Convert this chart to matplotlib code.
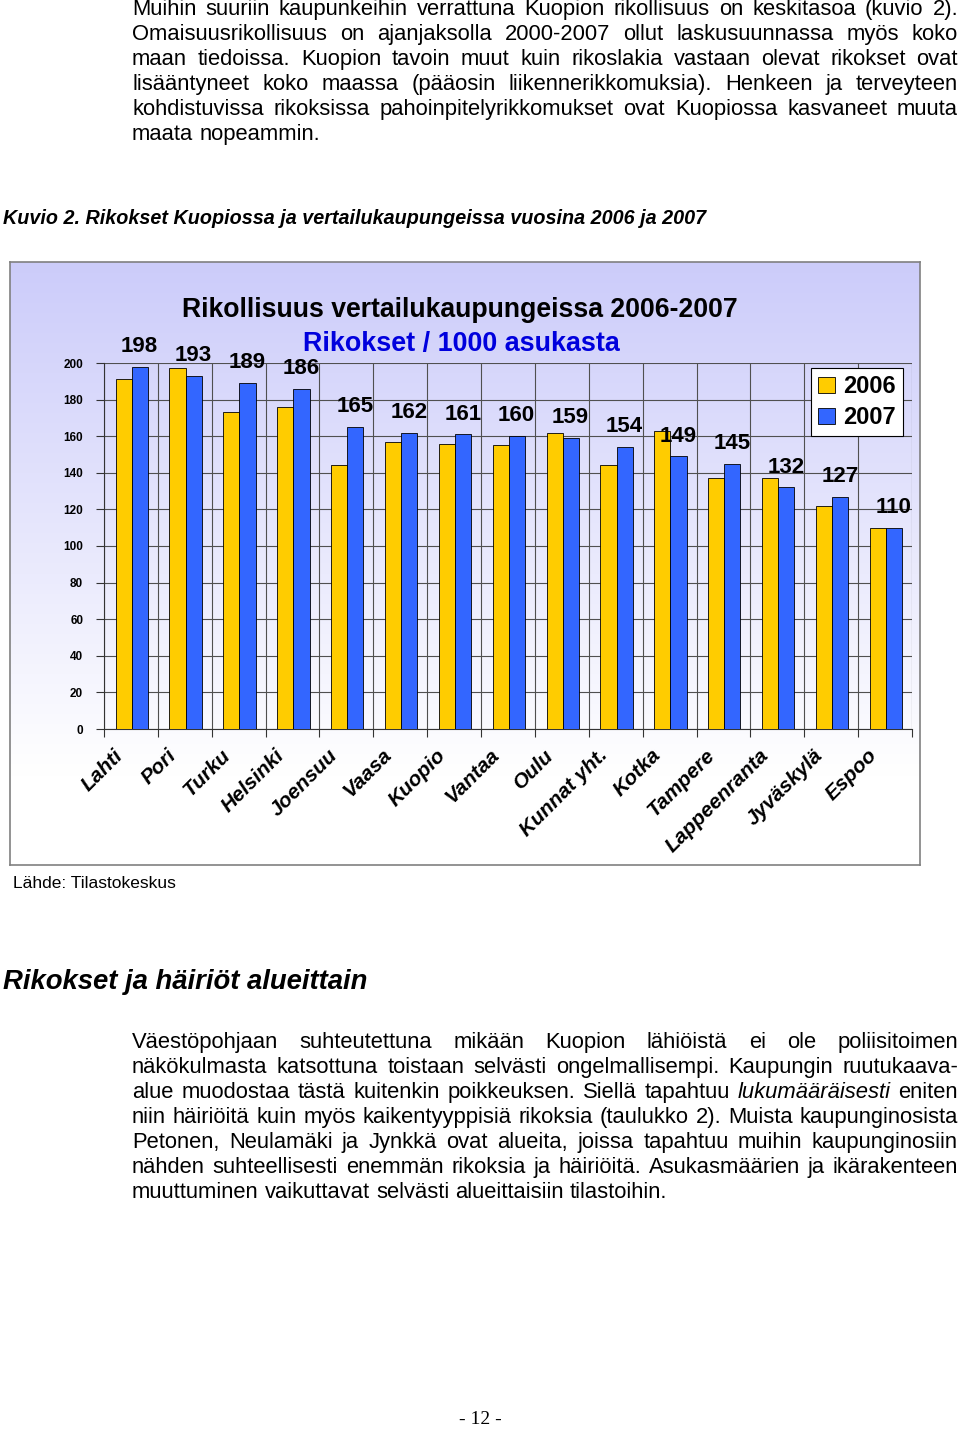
import numpy as np
import matplotlib
matplotlib.use('Agg')
import matplotlib.pyplot as plt
from matplotlib.patches import Patch

# Chart data (crimes per 1000 inhabitants)
cities = ['Lahti', 'Pori', 'Turku', 'Helsinki', 'Joensuu', 'Vaasa', 'Kuopio', 'Vantaa',
          'Oulu', 'Kunnat yht.', 'Kotka', 'Tampere', 'Lappeenranta', 'Jyväskylä', 'Espoo']
values_2006 = [191, 197, 173, 176, 144, 157, 156, 155, 162, 144, 163, 137, 137, 122, 110]
values_2007 = [198, 193, 189, 186, 165, 162, 161, 160, 159, 154, 149, 145, 132, 127, 110]
yticks = [0, 20, 40, 60, 80, 100, 120, 140, 160, 180, 200]

# Page text
para1 = [
    "Muihin suuriin kaupunkeihin verrattuna Kuopion rikollisuus on keskitasoa (kuvio 2).",
    "Omaisuusrikollisuus on ajanjaksolla 2000-2007 ollut laskusuunnassa myös koko",
    "maan tiedoissa. Kuopion tavoin muut kuin rikoslakia vastaan olevat rikokset ovat",
    "lisääntyneet koko maassa (pääosin liikennerikkomuksia). Henkeen ja terveyteen",
    "kohdistuvissa rikoksissa pahoinpitelyrikkomukset ovat Kuopiossa kasvaneet muuta",
    "maata nopeammin.",
]
para2 = [
    "Väestöpohjaan suhteutettuna mikään Kuopion lähiöistä ei ole poliisitoimen",
    "näkökulmasta katsottuna toistaan selvästi ongelmallisempi. Kaupungin ruutukaava-",
    "alue muodostaa tästä kuitenkin poikkeuksen. Siellä tapahtuu *lukumääräisesti* eniten",
    "niin häiriöitä kuin myös kaikentyyppisiä rikoksia (taulukko 2). Muista kaupunginosista",
    "Petonen, Neulamäki ja Jynkkä ovat alueita, joissa tapahtuu muihin kaupunginosiin",
    "nähden suhteellisesti enemmän rikoksia ja häiriöitä. Asukasmäärien ja ikärakenteen",
    "muuttuminen vaikuttavat selvästi alueittaisiin tilastoihin.",
]

colors = {
    'yellow': '#FFCC00',
    'blue': '#3366FF',
    'title_blue': '#0000DD',
    'grid': '#505050',
}

W, H = 960, 1429
fig = plt.figure(figsize=(W / 100, H / 100), dpi=100)
fig.patch.set_facecolor('white')
renderer = fig.canvas.get_renderer()


def fx(x):
    return x / W


def fy(y):
    return 1 - y / H


def text_line(line, x0, x1, y, size, justify):
    # y is the baseline in pixels from the top
    words = line.split(' ')
    items = []
    for w in words:
        style = 'normal'
        if w.startswith('*') and w.endswith('*'):
            w = w.strip('*')
            style = 'italic'
        t = fig.text(fx(x0), fy(y), w, fontsize=size, style=style,
                     family='Liberation Sans', va='baseline', ha='left')
        items.append(t)
    widths = [t.get_window_extent(renderer).width for t in items]
    sp = fig.text(0, 0, 'a a', fontsize=size, family='Liberation Sans')
    sp2 = fig.text(0, 0, 'aa', fontsize=size, family='Liberation Sans')
    space = sp.get_window_extent(renderer).width - sp2.get_window_extent(renderer).width
    sp.remove()
    sp2.remove()
    if justify and len(items) > 1:
        gap = max((x1 - x0 - sum(widths)) / (len(items) - 1), space * 0.6)
    else:
        gap = space
    x = x0
    for t, w in zip(items, widths):
        t.set_x(fx(x))
        x += w + gap


def paragraph(lines, x0, x1, y0, step, size):
    for i, line in enumerate(lines):
        text_line(line, x0, x1, y0 + i * step, size, i < len(lines) - 1)


paragraph(para1, 132, 958, 15, 25, 15.8)
paragraph(para2, 132, 958, 1048, 25, 15.8)

fig.text(fx(3), fy(218), 'Kuvio 2. Rikokset Kuopiossa ja vertailukaupungeissa vuosina 2006 ja 2007',
         family='Liberation Sans', fontsize=14.2, weight='bold',
         style='italic', va='center', ha='left')
fig.text(fx(13), fy(883), 'Lähde: Tilastokeskus', family='Liberation Sans',
         fontsize=12.5, va='center', ha='left')
fig.text(fx(3), fy(982), 'Rikokset ja häiriöt alueittain', family='Liberation Sans', fontsize=19.8,
         weight='bold', style='italic', va='center', ha='left')
fig.text(fx(480), fy(1419), '- 12 -', family='Liberation Serif', fontsize=14, va='center', ha='center')

# Chart frame with gradient background
box_l, box_t, box_r, box_b = 10, 262, 920, 865
bg = fig.add_axes([fx(box_l), fy(box_b), fx(box_r - box_l), (box_b - box_t) / H])
top = np.array([0.80, 0.80, 0.98])
grad = np.linspace(0, 1, 300)
grad = np.clip(grad / 0.85, 0, 1)[:, None]
img = top[None, :] * (1 - grad) + np.ones(3)[None, :] * grad
bg.imshow(img[:, None, :], aspect='auto', extent=[0, 1, 0, 1])
bg.set_xticks([])
bg.set_yticks([])
for s in bg.spines.values():
    s.set_color('#808080')
    s.set_linewidth(1.2)

# Plot area
pl, pt, pr, pb = 104, 363, 912, 729
ax = fig.add_axes([fx(pl), fy(pb), fx(pr - pl), (pb - pt) / H])
ax.patch.set_alpha(0)
n = len(cities)
x = np.arange(n)
ax.bar(x + 0.365, values_2006, width=0.3, color=colors['yellow'], edgecolor='black',
       linewidth=0.6, zorder=3, label='2006')
ax.bar(x + 0.665, values_2007, width=0.3, color=colors['blue'], edgecolor='black',
       linewidth=0.6, zorder=3, label='2007')
ax.set_xlim(0, n)
ax.set_ylim(0, 200)
ax.set_yticks(yticks)
ax.set_yticklabels([str(v) for v in yticks], fontsize=8.5, weight='bold', family='Liberation Sans')
ax.set_xticks(np.arange(n + 1))
ax.set_xticklabels([])
ax.tick_params(axis='both', direction='out', length=6, width=0.8, color='#333333', pad=9)
ax.grid(True, color=colors['grid'], linewidth=0.8, zorder=0)
for s in ['top', 'right']:
    ax.spines[s].set_visible(False)
for s in ['left', 'bottom']:
    ax.spines[s].set_color('#333333')

for i, v in enumerate(values_2007):
    ax.annotate(str(v), (i + 0.66, v), xytext=(0, 7), textcoords='offset points',
                ha='center', va='bottom', fontsize=16, weight='bold', family='Liberation Sans',
                zorder=5)

for i, c in enumerate(cities):
    ax.annotate(c, (i + 0.5, 0), xytext=(-13, -12), textcoords='offset points',
                ha='right', va='top', rotation=45, rotation_mode='anchor',
                fontsize=15, weight='bold', style='italic', family='Liberation Sans',
                annotation_clip=False)

fig.text(fx(460), fy(310), 'Rikollisuus vertailukaupungeissa 2006-2007', fontsize=19.2,
         weight='bold', family='Liberation Sans', ha='center', va='center')
fig.text(fx(461), fy(344), 'Rikokset / 1000 asukasta', fontsize=19.4, weight='bold',
         color=colors['title_blue'], family='Liberation Sans', ha='center', va='center')

handles = [Patch(facecolor=colors['yellow'], edgecolor='black', linewidth=0.6),
           Patch(facecolor=colors['blue'], edgecolor='black', linewidth=0.6)]
leg = fig.legend(handles, ['2006', '2007'], loc='upper left',
                 bbox_to_anchor=(fx(811), fy(368)), borderaxespad=0, fancybox=False,
                 framealpha=1, edgecolor='black', handlelength=0.7, handleheight=0.7,
                 handletextpad=0.35, borderpad=0.3, labelspacing=0.35,
                 prop={'family': 'Liberation Sans', 'weight': 'bold', 'size': 17})
leg.get_frame().set_linewidth(0.8)

fig.savefig('out.png', dpi=100, facecolor='white')
